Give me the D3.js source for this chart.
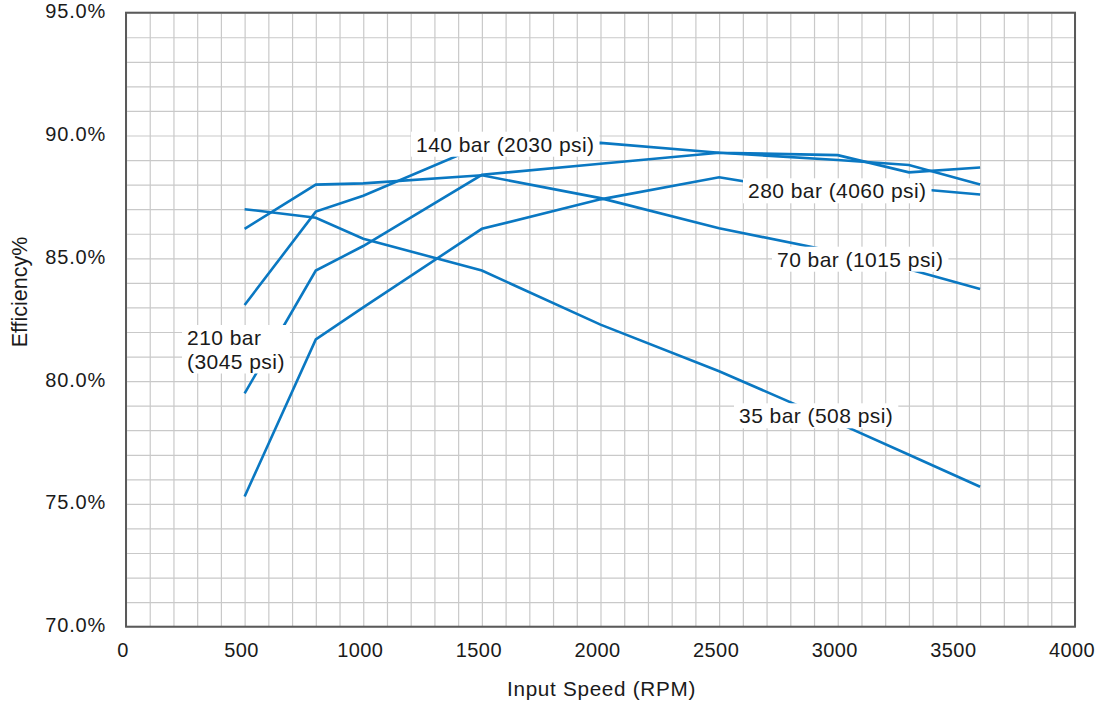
<!DOCTYPE html>
<html>
<head>
<meta charset="utf-8">
<script src="https://cdn.jsdelivr.net/npm/d3@7"></script>
<style>
  html, body { margin: 0; padding: 0; background: #ffffff; }
  svg { display: block; }
  text { font-family: "Liberation Sans", Arial, sans-serif; fill: #1a1a1a; }
</style>
</head>
<body>
<svg id="chart" width="1095" height="706"></svg>
<script>
// ---- data ----
const speeds = [500, 800, 1000, 1500, 2000, 2500, 3000, 3300, 3600];
const eff35  = [87.0, 86.65, 85.8, 84.5, 82.3, 80.4, 78.3, 77.0, 75.7];
const eff70  = [86.2, 88.0, 88.05, 88.38, 87.45, 86.22, 85.25, 84.55, 83.75];
const eff140 = [83.1, 86.9, 87.55, 89.6, 89.7, 89.3, 89.2, 88.5, 88.7];
const eff210 = [79.5, 84.5, 85.5, 88.4, 88.85, 89.3, 89.0, 88.8, 88.0];
const eff280 = [75.3, 81.7, 83.0, 86.2, 87.4, 88.3, 87.5, 87.85, 87.6];
const seriesNames = ["35 bar (508 psi)", "70 bar (1015 psi)", "140 bar (2030 psi)", "210 bar (3045 psi)", "280 bar (4060 psi)"];
const xTickLabels = [0, 500, 1000, 1500, 2000, 2500, 3000, 3500, 4000];
const yTickLabels = [70, 75, 80, 85, 90, 95];
const xTitle = "Input Speed (RPM)";
const yTitle = "Efficiency%";

// ---- layout ----
const W = 1095, H = 706;
const plot = { left: 126, right: 1075, top: 12.7, bottom: 626.7 };
const blue = "#0a78c2";

const svg = d3.select("#chart");
svg.append("rect").attr("width", W).attr("height", H).attr("fill", "#fff");

const x = d3.scaleLinear().domain([0, 4000]).range([plot.left, plot.right]);
const y = d3.scaleLinear().domain([70, 95]).range([plot.bottom, plot.top]);

// grid
const gGrid = svg.append("g");
gGrid.append("g")
  .attr("transform", `translate(0,${plot.bottom})`)
  .call(d3.axisBottom(x).tickValues(d3.range(0, 4001, 100)).tickSize(-(plot.bottom - plot.top)).tickFormat(""))
  .call(g => g.select(".domain").remove())
  .call(g => g.selectAll("line").attr("stroke", "#c9c9c9").attr("stroke-width", 1.2));
gGrid.append("g")
  .attr("transform", `translate(${plot.left},0)`)
  .call(d3.axisLeft(y).tickValues(d3.range(70, 95.001, 1)).tickSize(-(plot.right - plot.left)).tickFormat(""))
  .call(g => g.select(".domain").remove())
  .call(g => g.selectAll("line").attr("stroke", "#c9c9c9").attr("stroke-width", 1.2));

// series
const allSeries = [eff35, eff70, eff140, eff210, eff280];
const line = d3.line().x((d, i) => x(speeds[i])).y(d => y(d));
svg.append("g").selectAll("path").data(allSeries).join("path")
  .attr("d", d => line(d))
  .attr("fill", "none")
  .attr("stroke", blue)
  .attr("stroke-width", 2.6)
  .attr("stroke-linejoin", "miter");

// series labels with white boxes
const labelPos = [
  { i: 0, x: 739, y: [423.3] },
  { i: 1, x: 777, y: [266.7] },
  { i: 2, x: 416, y: [151.7] },
  { i: 3, x: 187, y: [345, 368.5], lines: ["210 bar", "(3045 psi)"] },
  { i: 4, x: 748, y: [198.3] }
];
const gLab = svg.append("g");
labelPos.forEach(p => {
  const g = gLab.append("g");
  const rect = g.append("rect").attr("fill", "#fff");
  const lines = p.lines || [seriesNames[p.i]];
  lines.forEach((t, k) => {
    g.append("text").attr("x", p.x).attr("y", p.y[k])
      .attr("font-size", 21).attr("letter-spacing", 0.45).text(t);
  });
  const bb = g.selectAll("text").nodes().map(n => n.getBBox());
  const x0 = d3.min(bb, b => b.x) - 5, x1 = d3.max(bb, b => b.x + b.width) + 5;
  const y0 = d3.min(bb, b => b.y) - 1, y1 = d3.max(bb, b => b.y + b.height) + 1;
  rect.attr("x", x0).attr("y", y0).attr("width", x1 - x0).attr("height", y1 - y0);
});

// frame
svg.append("rect")
  .attr("x", plot.left).attr("y", plot.top)
  .attr("width", plot.right - plot.left).attr("height", plot.bottom - plot.top)
  .attr("fill", "none").attr("stroke", "#5a5a5a").attr("stroke-width", 2);

// tick labels
svg.append("g").selectAll("text").data(xTickLabels).join("text")
  .attr("x", d => x(d) - 3).attr("y", plot.bottom + 30.5)
  .attr("text-anchor", "middle").attr("font-size", 20).attr("letter-spacing", 0.4)
  .text(d => d);
svg.append("g").selectAll("text").data(yTickLabels).join("text")
  .attr("x", 106).attr("y", d => y(d) + 5.5)
  .attr("text-anchor", "end").attr("font-size", 20).attr("letter-spacing", 0.8)
  .text(d => d.toFixed(1) + "%");

// axis titles
svg.append("text").attr("x", (plot.left + plot.right) / 2 + 1).attr("y", 696)
  .attr("text-anchor", "middle").attr("font-size", 20.7).attr("letter-spacing", 0.7).text(xTitle);
svg.append("text").attr("transform", "translate(27,292) rotate(-90)")
  .attr("text-anchor", "middle").attr("font-size", 21.5).text(yTitle);
</script>
</body>
</html>
